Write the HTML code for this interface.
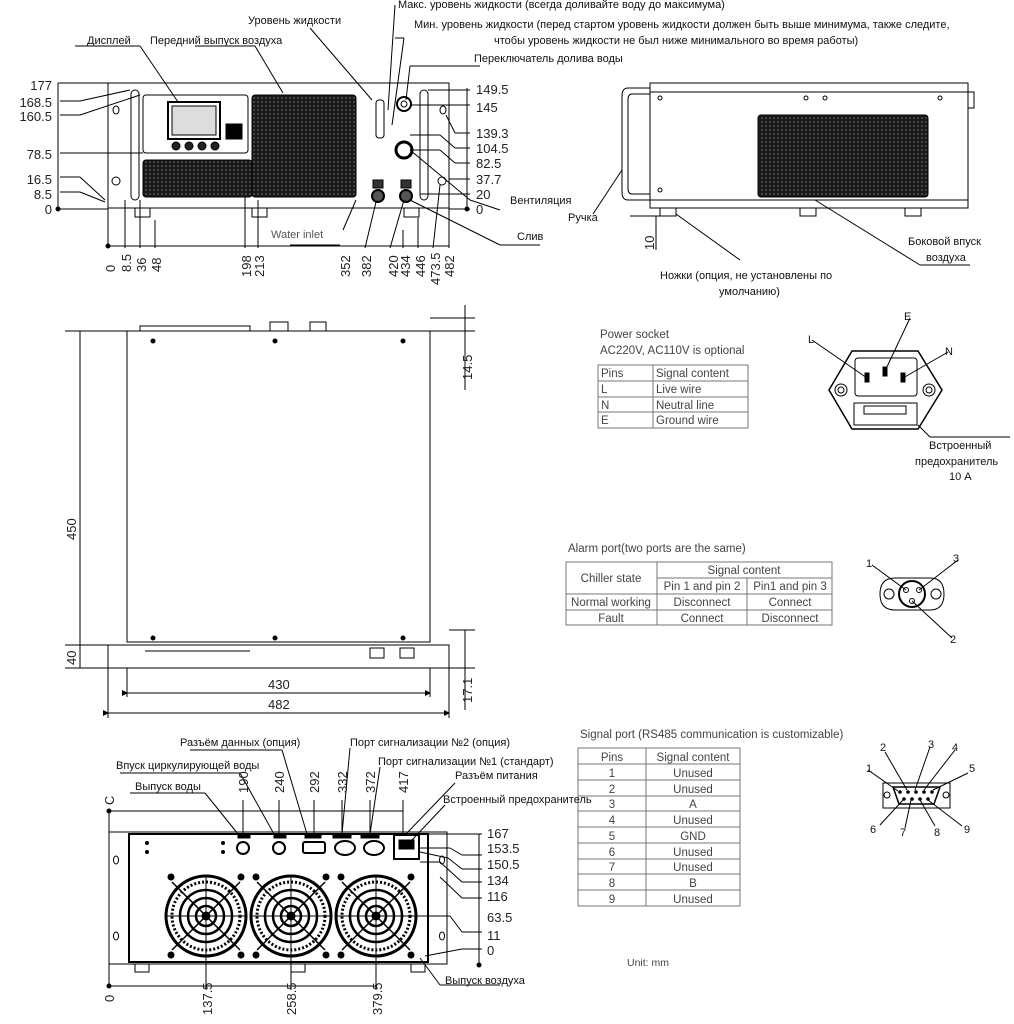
<!DOCTYPE html>
<html><head><meta charset="utf-8"><style>
html,body{margin:0;padding:0;background:#fff;}
svg{display:block;font-family:"Liberation Sans","Noto Sans CJK SC",sans-serif;}
.d{font-size:13px;fill:#222}
.l{font-size:11px;fill:#111}
.t{font-size:11.5px;fill:#444}
</style></head><body>
<svg width="1014" height="1024" viewBox="0 0 1014 1024" xmlns="http://www.w3.org/2000/svg">
<defs>
<pattern id="mesh" width="4" height="4" patternUnits="userSpaceOnUse"><rect width="4" height="4" fill="#1a1a1a"/><circle cx="2" cy="2" r="0.8" fill="#777"/></pattern>
<marker id="a" markerWidth="6" markerHeight="6" refX="5" refY="3" orient="auto"><path d="M0,0 L6,3 L0,6z" fill="#000"/></marker>
</defs>
<g stroke="#000" fill="none" stroke-width="1">
<!-- FRONT VIEW -->
<rect x="108" y="83" width="341" height="125"/>
<rect x="131" y="90" width="8" height="110" rx="4"/>
<rect x="420" y="90" width="8" height="110" rx="4"/>
<rect x="143" y="95" width="105" height="58" rx="3"/>
<rect x="168" y="102" width="52" height="37" stroke-width="2"/>
<rect x="172" y="106" width="44" height="29" fill="#ddd"/>
<rect x="226" y="124" width="16" height="15" fill="#000"/>
<circle cx="176" cy="146" r="4" fill="#222"/><circle cx="189" cy="146" r="4" fill="#222"/><circle cx="202" cy="146" r="4" fill="#222"/><circle cx="215" cy="146" r="4" fill="#222"/>
<rect x="252" y="95" width="104" height="102" rx="3" fill="url(#mesh)"/>
<rect x="143" y="160" width="109" height="37" rx="3" fill="url(#mesh)"/>
<rect x="135" y="208" width="15" height="9"/><rect x="252" y="208" width="15" height="9"/><rect x="404" y="208" width="15" height="9"/>
<ellipse cx="116" cy="110" rx="3" ry="4"/><circle cx="116" cy="181" r="4"/>
<ellipse cx="443" cy="110" rx="3" ry="4"/><circle cx="442" cy="181" r="4"/>
<rect x="376" y="100" width="8" height="38" rx="3"/>
<circle cx="404" cy="104" r="7" stroke-width="2"/><circle cx="404" cy="104" r="3"/>
<circle cx="404" cy="150" r="8" stroke-width="3"/>
<circle cx="378" cy="196" r="6" stroke-width="2" fill="#555"/><circle cx="406" cy="196" r="6" stroke-width="2" fill="#555"/>
<rect x="373" y="180" width="10" height="8" fill="#333"/><rect x="401" y="180" width="10" height="8" fill="#333"/>
<!-- front dims -->
<line x1="58" y1="209" x2="108" y2="209"/><line x1="58" y1="83" x2="108" y2="83"/>
<line x1="58" y1="83" x2="58" y2="209"/>
<line x1="60" y1="101" x2="80" y2="101"/><line x1="80" y1="101" x2="130" y2="90"/>
<line x1="60" y1="115" x2="80" y2="115"/><line x1="80" y1="115" x2="140" y2="95"/>
<line x1="60" y1="153" x2="143" y2="153"/>
<line x1="60" y1="177" x2="80" y2="177"/><line x1="80" y1="177" x2="105" y2="200"/>
<line x1="60" y1="192" x2="80" y2="192"/><line x1="80" y1="192" x2="105" y2="202"/>
<line x1="467" y1="88" x2="467" y2="209"/>
<line x1="428" y1="90" x2="470" y2="90"/><line x1="410" y1="105" x2="470" y2="105"/>
<line x1="446" y1="115" x2="455" y2="133"/><line x1="455" y1="133" x2="470" y2="133"/>
<line x1="410" y1="135" x2="440" y2="135"/><line x1="440" y1="135" x2="455" y2="148"/><line x1="455" y1="148" x2="470" y2="148"/>
<line x1="410" y1="150" x2="440" y2="150"/><line x1="440" y1="150" x2="455" y2="163"/><line x1="455" y1="163" x2="470" y2="163"/>
<line x1="449" y1="179" x2="470" y2="179"/><line x1="420" y1="194" x2="470" y2="194"/>
<line x1="449" y1="209" x2="470" y2="209"/>
<line x1="108" y1="208" x2="108" y2="248"/><line x1="449" y1="208" x2="449" y2="248"/>
<line x1="108" y1="246" x2="449" y2="246"/>
<line x1="125" y1="200" x2="125" y2="248"/><line x1="140" y1="200" x2="140" y2="248"/><line x1="155" y1="220" x2="155" y2="248"/>
<line x1="245" y1="197" x2="245" y2="248"/><line x1="258" y1="200" x2="258" y2="248"/>
<line x1="343" y1="230" x2="356" y2="200"/><line x1="365" y1="248" x2="376" y2="202"/>
<line x1="390" y1="248" x2="404" y2="200"/><line x1="403" y1="248" x2="403" y2="230"/><line x1="418" y1="248" x2="418" y2="218"/><line x1="433" y1="248" x2="440" y2="185"/>
<line x1="290" y1="245" x2="340" y2="245"/>
<!-- leaders front -->
<line x1="75" y1="46" x2="140" y2="46"/><line x1="140" y1="46" x2="178" y2="102"/>
<line x1="195" y1="46" x2="255" y2="46"/><line x1="255" y1="46" x2="283" y2="93"/>
<line x1="310" y1="28" x2="372" y2="100"/>
<line x1="395" y1="5" x2="388" y2="110"/>
<line x1="395" y1="38" x2="404" y2="38"/><line x1="404" y1="38" x2="392" y2="125"/>
<line x1="410" y1="66" x2="480" y2="66"/><line x1="410" y1="66" x2="406" y2="100"/>
<line x1="410" y1="150" x2="470" y2="200"/><line x1="470" y1="200" x2="500" y2="210"/>
<line x1="410" y1="200" x2="500" y2="245"/><line x1="500" y1="245" x2="540" y2="245"/>
<line x1="395" y1="38" x2="400" y2="38"/>
<!-- SIDE VIEW -->
<rect x="650" y="83" width="318" height="125"/>
<line x1="650" y1="200" x2="968" y2="200"/>
<line x1="650" y1="92" x2="968" y2="92"/>
<path d="M650,88 L628,88 Q622,88 622,96 L622,192 Q622,200 628,200 L650,200"/>
<path d="M650,94 L632,94 Q628,94 628,100 L628,188 Q628,194 632,194 L650,194"/>
<rect x="968" y="92" width="6" height="16"/>
<rect x="758" y="115" width="170" height="82" rx="3" fill="url(#mesh)"/>
<rect x="660" y="208" width="16" height="8"/><rect x="800" y="208" width="16" height="8"/><rect x="905" y="208" width="16" height="8"/>
<circle cx="660" cy="98" r="2"/><circle cx="806" cy="98" r="2"/><circle cx="825" cy="98" r="2"/><circle cx="940" cy="98" r="2"/><circle cx="660" cy="190" r="2"/>
<line x1="656" y1="216" x2="656" y2="250"/><line x1="630" y1="216" x2="660" y2="216"/>
<line x1="593" y1="214" x2="622" y2="170"/>
<line x1="676" y1="214" x2="740" y2="260"/>
<line x1="815" y1="200" x2="920" y2="265"/><line x1="920" y1="265" x2="970" y2="265"/>
<!-- TOP VIEW -->
<rect x="127" y="331" width="303" height="311"/>
<rect x="108" y="645" width="341" height="23"/>
<line x1="127" y1="642" x2="430" y2="642"/>
<path d="M140,331 L140,326 L250,326 L250,331"/>
<rect x="270" y="322" width="18" height="9"/><rect x="310" y="322" width="16" height="9"/>
<circle cx="153" cy="341" r="2" fill="#000"/><circle cx="403" cy="341" r="2" fill="#000"/><circle cx="153" cy="638" r="2" fill="#000"/><circle cx="403" cy="638" r="2" fill="#000"/><circle cx="275" cy="638" r="2" fill="#000"/><circle cx="275" cy="341" r="2" fill="#000"/>
<rect x="370" y="648" width="14" height="10"/><rect x="400" y="648" width="14" height="10"/>
<line x1="145" y1="651" x2="250" y2="651"/>
<line x1="65" y1="331" x2="127" y2="331"/><line x1="65" y1="645" x2="108" y2="645"/>
<line x1="80" y1="331" x2="80" y2="668"/><line x1="65" y1="668" x2="108" y2="668"/>
<line x1="430" y1="318" x2="475" y2="318"/><line x1="430" y1="331" x2="475" y2="331"/>
<line x1="465" y1="305" x2="465" y2="390"/>
<line x1="449" y1="630" x2="475" y2="630"/><line x1="449" y1="668" x2="475" y2="668"/>
<line x1="465" y1="630" x2="465" y2="710"/>
<line x1="127" y1="668" x2="127" y2="697"/><line x1="430" y1="668" x2="430" y2="697"/>
<line x1="127" y1="693" x2="430" y2="693" marker-start="url(#a)" marker-end="url(#a)"/>
<line x1="108" y1="668" x2="108" y2="718"/><line x1="449" y1="668" x2="449" y2="718"/>
<line x1="108" y1="713" x2="449" y2="713" marker-start="url(#a)" marker-end="url(#a)"/>
<!-- tables -->
<rect x="598" y="365" width="150" height="63" stroke="#777"/>
<line x1="598" y1="381" x2="748" y2="381" stroke="#777"/><line x1="598" y1="397" x2="748" y2="397" stroke="#777"/><line x1="598" y1="412" x2="748" y2="412" stroke="#777"/>
<line x1="653" y1="365" x2="653" y2="428" stroke="#777"/>
<rect x="566" y="562" width="266" height="63" stroke="#777"/>
<line x1="657" y1="578" x2="832" y2="578" stroke="#777"/><line x1="566" y1="594" x2="832" y2="594" stroke="#777"/><line x1="566" y1="610" x2="832" y2="610" stroke="#777"/>
<line x1="657" y1="562" x2="657" y2="625" stroke="#777"/><line x1="747" y1="578" x2="747" y2="625" stroke="#777"/>
<rect x="578" y="748" width="162" height="158" stroke="#777"/>
<line x1="646" y1="748" x2="646" y2="906" stroke="#777"/>
<g stroke="#777"><line x1="578" y1="764" x2="740" y2="764"/><line x1="578" y1="780" x2="740" y2="780"/><line x1="578" y1="796" x2="740" y2="796"/><line x1="578" y1="811" x2="740" y2="811"/><line x1="578" y1="827" x2="740" y2="827"/><line x1="578" y1="843" x2="740" y2="843"/><line x1="578" y1="859" x2="740" y2="859"/><line x1="578" y1="874" x2="740" y2="874"/><line x1="578" y1="890" x2="740" y2="890"/></g>
<!-- power socket drawing -->
<path d="M852,351 L918,351 L942,390 L918,429 L852,429 L829,390 Z" stroke-width="1.5"/>
<rect x="855" y="358" width="62" height="38" rx="3"/>
<rect x="865" y="373" width="4" height="9" fill="#000"/><rect x="883" y="367" width="4" height="9" fill="#000"/><rect x="901" y="373" width="4" height="9" fill="#000"/>
<rect x="854" y="403" width="63" height="22"/>
<rect x="864" y="406" width="42" height="8"/>
<circle cx="841" cy="390" r="6"/><circle cx="841" cy="390" r="3"/><circle cx="929" cy="390" r="6"/><circle cx="929" cy="390" r="3"/>
<line x1="812" y1="340" x2="867" y2="378"/><line x1="910" y1="318" x2="885" y2="371"/><line x1="948" y1="352" x2="903" y2="378"/>
<line x1="918" y1="425" x2="930" y2="437"/><line x1="930" y1="437" x2="1010" y2="437"/>
<!-- alarm connector -->
<path d="M895,578 L930,578 Q944,578 944,594 Q944,610 930,610 L895,610 Q880,610 880,594 Q880,578 895,578Z"/>
<circle cx="912" cy="594" r="13" stroke-width="2"/>
<circle cx="889" cy="594" r="5"/><circle cx="936" cy="594" r="5"/>
<circle cx="906" cy="590" r="2.5"/><circle cx="919" cy="590" r="2.5"/><circle cx="912" cy="601" r="2.5"/>
<line x1="872" y1="565" x2="906" y2="590"/><line x1="958" y1="560" x2="919" y2="590"/><line x1="912" y1="601" x2="952" y2="638"/>
<!-- DB9 -->
<path d="M883,783 L950,783 L950,808 L883,808 Z"/>
<path d="M893,787 L940,787 L934,804 L899,804 Z" stroke-width="1.5"/>
<circle cx="887" cy="795" r="3"/><circle cx="946" cy="795" r="3"/>
<g fill="#000"><circle cx="900" cy="792" r="1.3"/><circle cx="908" cy="792" r="1.3"/><circle cx="916" cy="792" r="1.3"/><circle cx="924" cy="792" r="1.3"/><circle cx="932" cy="792" r="1.3"/><circle cx="904" cy="799" r="1.3"/><circle cx="912" cy="799" r="1.3"/><circle cx="920" cy="799" r="1.3"/><circle cx="928" cy="799" r="1.3"/></g>
<line x1="868" y1="770" x2="898" y2="791"/><line x1="885" y1="752" x2="907" y2="790"/><line x1="930" y1="747" x2="915" y2="790"/><line x1="955" y1="750" x2="924" y2="790"/><line x1="968" y1="773" x2="933" y2="790"/>
<line x1="880" y1="825" x2="903" y2="800"/><line x1="905" y1="828" x2="911" y2="800"/><line x1="935" y1="826" x2="920" y2="800"/><line x1="962" y1="826" x2="928" y2="800"/>
<!-- REAR VIEW -->
<rect x="109" y="832" width="338" height="132"/>
<rect x="129" y="834" width="299" height="128" stroke-width="2"/>
<rect x="135" y="964" width="14" height="8"/><rect x="291" y="964" width="14" height="8"/><rect x="411" y="964" width="14" height="8"/>
<g id="fan">
<circle cx="206" cy="916" r="40" stroke-width="3"/>
<circle cx="206" cy="916" r="34" stroke-width="3" stroke-dasharray="2 2"/>
<circle cx="206" cy="916" r="26" stroke-width="2.5"/>
<circle cx="206" cy="916" r="18" stroke-width="2.5"/>
<circle cx="206" cy="916" r="10" stroke-width="2.5"/>
<circle cx="206" cy="916" r="4" fill="#000"/>
<line x1="206" y1="876" x2="206" y2="956"/><line x1="166" y1="916" x2="246" y2="916"/>
<line x1="172" y1="882" x2="240" y2="950" stroke-width="1.5"/><line x1="240" y1="882" x2="172" y2="950" stroke-width="1.5"/>
<circle cx="171" cy="877" r="3" fill="#000"/><circle cx="241" cy="877" r="3" fill="#000"/><circle cx="171" cy="955" r="3" fill="#000"/><circle cx="241" cy="955" r="3" fill="#000"/>
</g>
<use href="#fan" x="85"/><use href="#fan" x="170"/>
<circle cx="243" cy="848" r="6" stroke-width="2"/><circle cx="279" cy="848" r="6" stroke-width="2"/>
<rect x="303" y="842" width="22" height="11" rx="2" stroke-width="2"/>
<ellipse cx="345" cy="848" rx="10" ry="7" stroke-width="2"/><ellipse cx="374" cy="848" rx="10" ry="7" stroke-width="2"/>
<rect x="394" y="835" width="25" height="24" stroke-width="2"/>
<rect x="399" y="840" width="15" height="9" fill="#000"/>
<g fill="#000"><rect x="238" y="834" width="12" height="4"/><rect x="274" y="834" width="12" height="4"/><rect x="305" y="834" width="16" height="4"/><rect x="333" y="834" width="18" height="4"/><rect x="361" y="834" width="18" height="4"/></g>
<circle cx="147" cy="843" r="1.5" fill="#000"/><circle cx="147" cy="852" r="1.5" fill="#000"/><circle cx="223" cy="843" r="1.5" fill="#000"/><circle cx="223" cy="852" r="1.5" fill="#000"/>
<ellipse cx="116" cy="860" rx="2.5" ry="4"/><ellipse cx="116" cy="936" rx="2.5" ry="4"/><ellipse cx="442" cy="860" rx="2.5" ry="4"/><ellipse cx="442" cy="936" rx="2.5" ry="4"/>
<!-- rear dims -->
<line x1="109" y1="811" x2="109" y2="986"/>
<line x1="109" y1="811" x2="403" y2="811"/>
<line x1="243" y1="800" x2="243" y2="834"/><line x1="279" y1="800" x2="279" y2="834"/><line x1="314" y1="800" x2="314" y2="834"/><line x1="342" y1="800" x2="342" y2="834"/><line x1="370" y1="800" x2="370" y2="834"/><line x1="403" y1="800" x2="403" y2="834"/>
<line x1="109" y1="986" x2="376" y2="986"/>
<line x1="206" y1="956" x2="206" y2="990"/><line x1="291" y1="956" x2="291" y2="990"/><line x1="376" y1="956" x2="376" y2="990"/>
<line x1="479" y1="834" x2="479" y2="965"/>
<line x1="428" y1="834" x2="482" y2="834"/>
<line x1="420" y1="848" x2="450" y2="848"/><line x1="450" y1="848" x2="462" y2="855"/><line x1="462" y1="855" x2="482" y2="855"/>
<line x1="420" y1="852" x2="448" y2="858"/><line x1="448" y1="858" x2="462" y2="869"/><line x1="462" y1="869" x2="482" y2="869"/>
<line x1="420" y1="862" x2="440" y2="862"/><line x1="440" y1="862" x2="462" y2="882"/><line x1="462" y1="882" x2="482" y2="882"/>
<line x1="440" y1="877" x2="462" y2="898"/><line x1="462" y1="898" x2="482" y2="898"/>
<line x1="415" y1="916" x2="450" y2="916"/><line x1="450" y1="916" x2="462" y2="932"/><line x1="462" y1="932" x2="482" y2="932"/>
<line x1="425" y1="956" x2="462" y2="949"/><line x1="462" y1="949" x2="482" y2="949"/>
<circle cx="479" cy="965" r="2" fill="#000"/><circle cx="109" cy="811" r="2" fill="#000"/><circle cx="109" cy="986" r="2" fill="#000"/>
<line x1="420" y1="958" x2="440" y2="985"/><line x1="440" y1="985" x2="500" y2="985"/>
<line x1="130" y1="793" x2="205" y2="793"/><line x1="205" y1="793" x2="238" y2="834"/>
<line x1="120" y1="773" x2="240" y2="773"/><line x1="240" y1="773" x2="274" y2="834"/>
<line x1="190" y1="750" x2="282" y2="750"/><line x1="282" y1="750" x2="307" y2="834"/>
<line x1="350" y1="748" x2="342" y2="834"/>
<line x1="380" y1="767" x2="370" y2="834"/>
<line x1="455" y1="783" x2="406" y2="834"/>
<line x1="445" y1="805" x2="412" y2="840"/>
<circle cx="58" cy="209" r="2" fill="#000"/><circle cx="467" cy="209" r="2" fill="#000"/><circle cx="108" cy="246" r="2" fill="#000"/>
</g>
<!-- TEXT front -->
<g class="l">
<text x="87" y="44">Дисплей</text>
<text x="150" y="44">Передний выпуск воздуха</text>
<text x="248" y="24">Уровень жидкости</text>
<text x="398" y="8">Макс. уровень жидкости (всегда доливайте воду до максимума)</text>
<text x="414" y="28">Мин. уровень жидкости (перед стартом уровень жидкости должен быть выше минимума, также следите,</text>
<text x="494" y="44">чтобы уровень жидкости не был ниже минимального во время работы)</text>
<text x="474" y="62">Переключатель долива воды</text>
<text x="510" y="204">Вентиляция</text>
<text x="517" y="240">Слив</text>
<text x="271" y="238" fill="#555">Water inlet</text>
<text x="568" y="221">Ручка</text>
<text x="908" y="245">Боковой впуск</text>
<text x="926" y="261">воздуха</text>
<text x="660" y="279">Ножки (опция, не установлены по</text>
<text x="719" y="295">умолчанию)</text>
<text x="929" y="449">Встроенный</text>
<text x="915" y="465">предохранитель</text>
<text x="949" y="480">10 А</text>
<text x="180" y="746">Разъём данных (опция)</text>
<text x="350" y="746">Порт сигнализации №2 (опция)</text>
<text x="378" y="765">Порт сигнализации №1 (стандарт)</text>
<text x="455" y="779">Разъём питания</text>
<text x="116" y="769">Впуск циркулирующей воды</text>
<text x="135" y="790">Выпуск воды</text>
<text x="443" y="803">Встроенный предохранитель</text>
<text x="445" y="984">Выпуск воздуха</text>
<text x="904" y="320">E</text><text x="808" y="343">L</text><text x="945" y="355">N</text>
<text x="866" y="567">1</text><text x="953" y="562">3</text><text x="950" y="643">2</text>
<text x="880" y="751">2</text><text x="928" y="748">3</text><text x="952" y="751">4</text><text x="866" y="772">1</text><text x="969" y="772">5</text>
<text x="870" y="833">6</text><text x="900" y="836">7</text><text x="934" y="836">8</text><text x="964" y="833">9</text>
</g>
<g class="d">
<text x="52" y="90" text-anchor="end">177</text>
<text x="52" y="107" text-anchor="end">168.5</text>
<text x="52" y="121" text-anchor="end">160.5</text>
<text x="52" y="159" text-anchor="end">78.5</text>
<text x="52" y="184" text-anchor="end">16.5</text>
<text x="52" y="199" text-anchor="end">8.5</text>
<text x="52" y="214" text-anchor="end">0</text>
<text x="476" y="94">149.5</text><text x="476" y="112">145</text><text x="476" y="138">139.3</text><text x="476" y="153">104.5</text><text x="476" y="168">82.5</text><text x="476" y="184">37.7</text><text x="476" y="199">20</text><text x="476" y="214">0</text>
<g transform="rotate(-90)">
<text x="-272" y="115">0</text><text x="-272" y="131">8.5</text><text x="-272" y="146">36</text><text x="-272" y="161">48</text>
<text x="-277" y="251">198</text><text x="-277" y="264">213</text>
<text x="-277" y="350">352</text><text x="-277" y="371">382</text><text x="-277" y="398">420</text><text x="-277" y="410">434</text><text x="-277" y="425">446</text><text x="-285" y="440">473.5</text><text x="-277" y="454">482</text>
<text x="-250" y="654">10</text>
<text x="-540" y="76">450</text>
<text x="-665" y="76">40</text>
<text x="-380" y="472">14.5</text>
<text x="-703" y="472">17.1</text>
<text x="-805" y="114">C</text>
<text x="-1002" y="114">0</text><text x="-1015" y="212">137.5</text><text x="-1015" y="296">258.5</text><text x="-1015" y="382">379.5</text>
<text x="-793" y="248">190</text><text x="-793" y="284">240</text><text x="-793" y="319">292</text><text x="-793" y="347">332</text><text x="-793" y="375">372</text><text x="-793" y="408">417</text>
</g>
<text x="268" y="689">430</text>
<text x="268" y="709">482</text>
<text x="487" y="838">167</text><text x="487" y="853">153.5</text><text x="487" y="869">150.5</text><text x="487" y="885">134</text><text x="487" y="901">116</text><text x="487" y="922">63.5</text><text x="487" y="940">11</text><text x="487" y="955">0</text>
</g>
<g class="t">
<text x="600" y="338">Power socket</text>
<text x="600" y="354">AC220V, AC110V is optional</text>
<text x="601" y="377">Pins</text><text x="656" y="377">Signal content</text>
<text x="601" y="393">L</text><text x="656" y="393">Live wire</text>
<text x="601" y="409">N</text><text x="656" y="409">Neutral line</text>
<text x="601" y="424">E</text><text x="656" y="424">Ground wire</text>
<text x="568" y="552">Alarm port(two ports are the same)</text>
<text x="611" y="582" text-anchor="middle">Chiller state</text>
<text x="744" y="574" text-anchor="middle">Signal content</text>
<text x="702" y="590" text-anchor="middle">Pin 1 and pin 2</text><text x="790" y="590" text-anchor="middle">Pin1 and pin 3</text>
<text x="611" y="606" text-anchor="middle">Normal working</text><text x="702" y="606" text-anchor="middle">Disconnect</text><text x="790" y="606" text-anchor="middle">Connect</text>
<text x="611" y="622" text-anchor="middle">Fault</text><text x="702" y="622" text-anchor="middle">Connect</text><text x="790" y="622" text-anchor="middle">Disconnect</text>
<text x="580" y="738">Signal port (RS485 communication is customizable)</text>
<g text-anchor="middle">
<text x="612" y="761">Pins</text><text x="693" y="761">Signal content</text>
<text x="612" y="777">1</text><text x="693" y="777">Unused</text>
<text x="612" y="793">2</text><text x="693" y="793">Unused</text>
<text x="612" y="808">3</text><text x="693" y="808">A</text>
<text x="612" y="824">4</text><text x="693" y="824">Unused</text>
<text x="612" y="840">5</text><text x="693" y="840">GND</text>
<text x="612" y="856">6</text><text x="693" y="856">Unused</text>
<text x="612" y="871">7</text><text x="693" y="871">Unused</text>
<text x="612" y="887">8</text><text x="693" y="887">B</text>
<text x="612" y="903">9</text><text x="693" y="903">Unused</text>
</g>
<text x="627" y="966" style="font-size:10.5px">Unit: mm</text>
</g>
</svg>
</body></html>
